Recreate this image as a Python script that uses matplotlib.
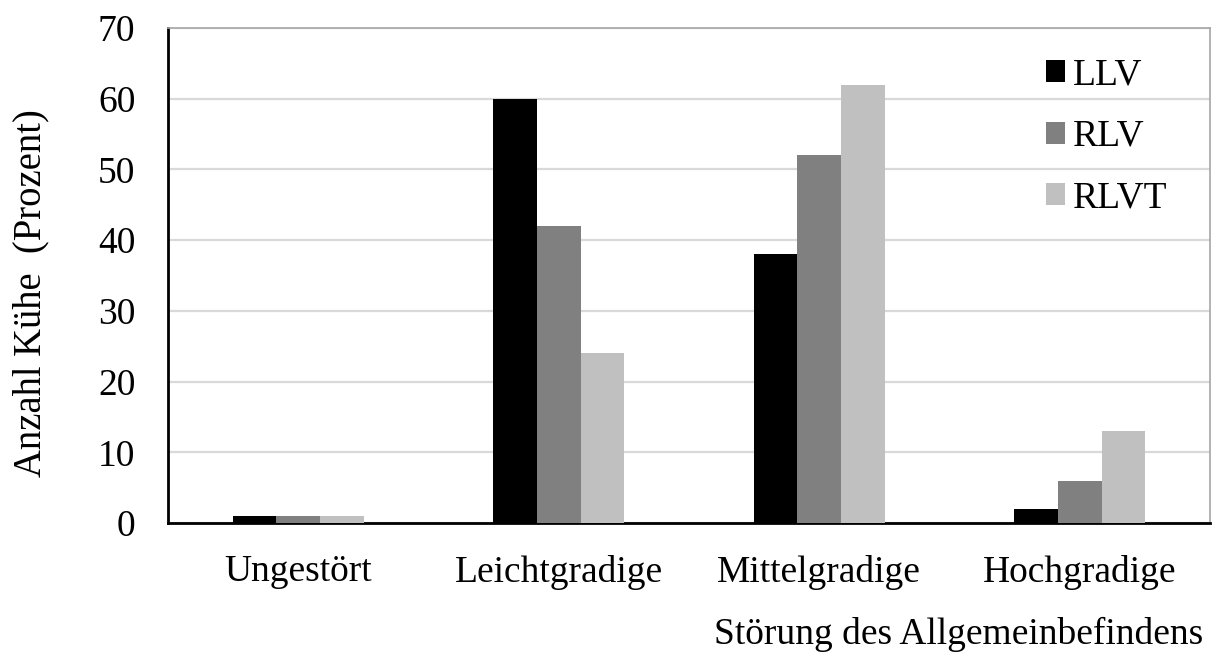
import numpy as np
import matplotlib
matplotlib.use("Agg")
import matplotlib.pyplot as plt

categories = ["Ungestört", "Leichtgradige", "Mittelgradige", "Hochgradige"]
series_names = ["LLV", "RLV", "RLVT"]
llv = [1, 60, 38, 2]
rlv = [1, 42, 52, 6]
rlvt = [1, 24, 62, 13]
y_ticks = [0, 10, 20, 30, 40, 50, 60, 70]
colors = ["#000000", "#808080", "#c0c0c0"]

plt.rcParams["font.family"] = ["Liberation Serif", "DejaVu Serif"]
FS = 27

fig = plt.figure(figsize=(12.2, 6.6), dpi=100)
ax = fig.add_axes([168 / 1220, 1 - 523 / 660, (1210 - 168) / 1220, (523 - 28) / 660])

x = np.arange(len(categories))
width = 0.167
for i, (vals, name, col) in enumerate(zip([llv, rlv, rlvt], series_names, colors)):
    ax.bar(x + (i - 1) * width, vals, width, color=col, label=name, zorder=3,
           edgecolor="none")

ax.set_xlim(-0.5, len(categories) - 0.5)
ax.set_ylim(0, 70)
ax.set_yticks(y_ticks)
ax.set_xticks(x)
ax.set_xticklabels(categories)
ax.tick_params(axis="both", length=0, labelsize=FS)
ax.tick_params(axis="y", pad=23.5)
ax.tick_params(axis="x", pad=23)
ax.yaxis.grid(True, color="#d9d9d9", linewidth=1.6, zorder=0)
ax.set_axisbelow(True)

for side in ["left", "bottom"]:
    ax.spines[side].set_color("#000000")
    ax.spines[side].set_linewidth(2.0)
for side in ["top", "right"]:
    ax.spines[side].set_color("#a6a6a6")
    ax.spines[side].set_linewidth(1.2)

fig.text(31 / 1220, 1 - 293 / 660, "Anzahl Kühe  (Prozent)", rotation=90,
         ha="center", va="center", fontsize=27.8)
fig.text(1203 / 1220, 1 - 634 / 660, "Störung des Allgemeinbefindens",
         ha="right", va="center", fontsize=FS)

leg = ax.legend(loc="upper right", bbox_to_anchor=(0.988, 1.0), frameon=False,
                fontsize=FS, handlelength=0.52, handleheight=0.52,
                handletextpad=0.2, labelspacing=0.72, borderaxespad=0.4)

fig.savefig("out.png", dpi=100, facecolor="white")
